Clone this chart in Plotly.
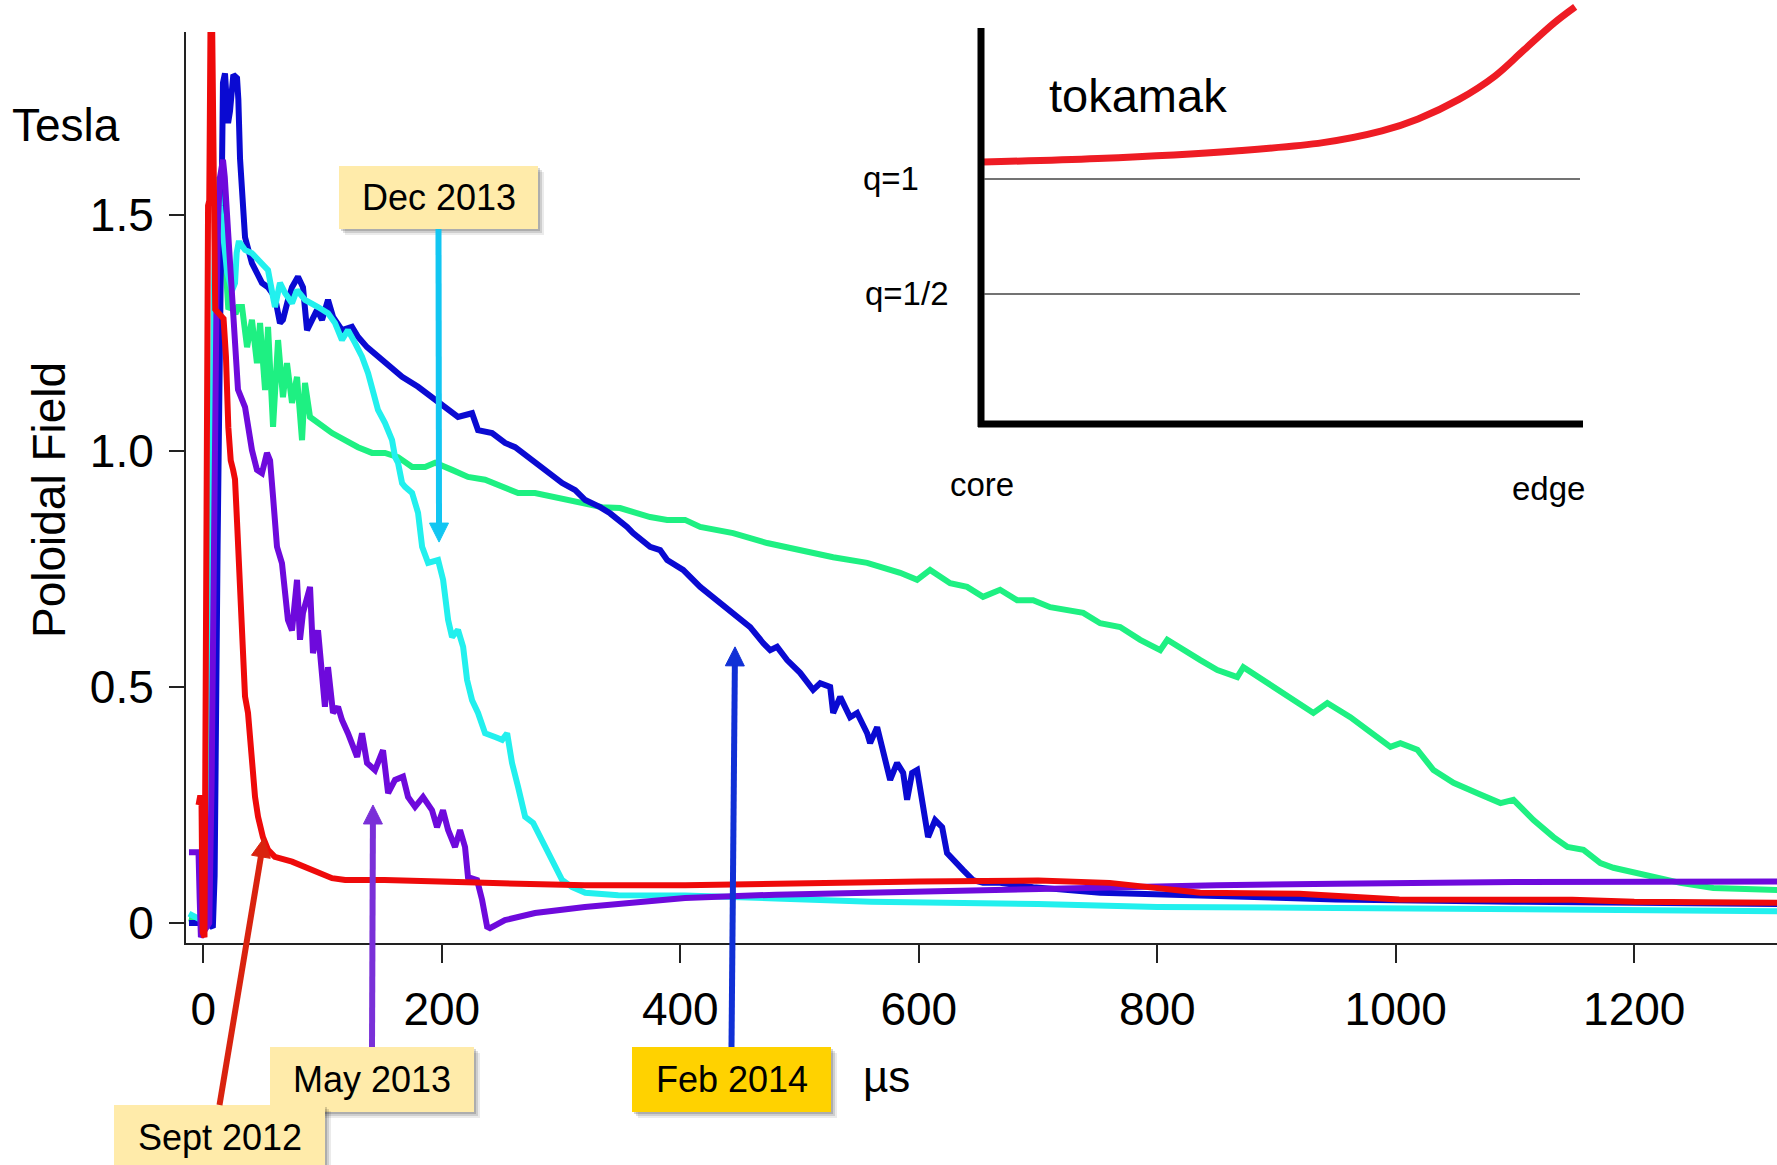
import math
import plotly.graph_objects as go

# ---- poloidal field traces (time in microseconds, field in tesla) ----
sept2012_t = [-4, -2.5, -1.5, -0.5, 1, 2, 3, 4, 5, 6, 7.5, 8.5, 10, 17, 19, 21, 23, 25, 26.6,
              28.3, 32.5, 35, 37.5, 40.8, 43.4, 45.9, 50, 54.3, 60, 74.4, 91, 108, 119, 152,
              236, 320, 404, 500, 600, 700, 760, 836, 919, 1003, 1148, 1200, 1250, 1320]
sept2012_b = [0.25, 0.27, 0.26, -0.02, -0.03, 0.65, 0.68, 1.52, 1.53, 1.886, 1.886, 1.6, 1.3,
              1.28, 1.2, 1.05, 0.98, 0.96, 0.94, 0.85, 0.585, 0.48, 0.445, 0.34, 0.267, 0.225,
              0.182, 0.155, 0.14, 0.13, 0.112, 0.095, 0.091, 0.091, 0.085, 0.08, 0.08, 0.085,
              0.088, 0.09, 0.085, 0.064, 0.062, 0.05, 0.049, 0.045, 0.044, 0.043]

may2013_t = [-12, -4, -3, -2, 0, 5, 7, 9, 11, 12.5, 14, 16.5, 18, 20.7, 24.1, 26.6, 29.1, 35,
             37.5, 40.8, 45, 49.2, 53.4, 56, 58.5, 61.8, 66, 68.5, 71, 74.4, 78.6, 81.1, 83.6,
             89.5, 92, 96.2, 99.6, 102, 104.6, 108.8, 113, 116.3, 121.3, 125.5, 129, 133.1,
             137.3, 144, 150.7, 155, 160.8, 167.5, 171.7, 177.6, 184.3, 191.8, 196, 201, 205.3,
             211.1, 215.3, 219.5, 222, 229.6, 233.8, 238, 240.4, 253, 278.2, 320, 362, 404,
             480, 560, 640, 750, 850, 950, 1100, 1320]
may2013_b = [0.15, 0.15, 0.05, -0.03, -0.02, 0.0, 0.3, 0.9, 1.3, 1.5, 1.58, 1.617, 1.58, 1.468,
             1.326, 1.186, 1.13, 1.093, 1.044, 1.002, 0.96, 0.953, 0.996, 0.98, 0.903, 0.797,
             0.762, 0.69, 0.642, 0.62, 0.727, 0.6, 0.657, 0.712, 0.572, 0.62, 0.542, 0.458,
             0.542, 0.445, 0.458, 0.43, 0.402, 0.373, 0.352, 0.402, 0.339, 0.324, 0.366, 0.275,
             0.303, 0.31, 0.267, 0.246, 0.267, 0.239, 0.203, 0.239, 0.197, 0.161, 0.197, 0.161,
             0.097, 0.091, 0.049, -0.008, -0.011, 0.006, 0.021, 0.034, 0.044, 0.053, 0.06,
             0.065, 0.07, 0.075, 0.08, 0.083, 0.087, 0.088]

dec2013_t = [-12, -5, 3, 5, 7, 9, 11, 12.5, 14, 17, 20, 24, 26.6, 28, 29.5, 31, 35, 40.8, 49.2,
             54.3, 58.5, 60.1, 64.3, 68.5, 74.4, 78.6, 85.3, 91.2, 96.2, 104.6, 110.5, 116.3,
             121.3, 127.2, 133.1, 138.2, 142.4, 146.5, 152.4, 158.3, 160.8, 163.3, 166.7, 169.2,
             175.1, 180.1, 183.5, 188.5, 196.9, 201.1, 205.3, 208.6, 213.6, 217.9, 221.2, 225.4,
             230.4, 236.3, 244.7, 250.6, 254.8, 258.9, 264, 269.9, 276.6, 284.1, 292.5, 300.9,
             309.3, 320.3, 348, 404, 480, 560, 700, 800, 950, 1100, 1320]
dec2013_b = [0.02, 0.01, 0.0, 0.3, 0.9, 1.35, 1.55, 1.58, 1.52, 1.45, 1.38, 1.34, 1.356, 1.42,
             1.44, 1.44, 1.426, 1.419, 1.398, 1.383, 1.326, 1.305, 1.356, 1.335, 1.313, 1.341,
             1.32, 1.313, 1.305, 1.292, 1.271, 1.235, 1.256, 1.229, 1.2, 1.165, 1.129, 1.087,
             1.059, 1.023, 0.987, 0.975, 0.932, 0.924, 0.911, 0.869, 0.797, 0.763, 0.769, 0.727,
             0.642, 0.606, 0.621, 0.585, 0.515, 0.472, 0.445, 0.402, 0.394, 0.388, 0.402, 0.339,
             0.288, 0.225, 0.212, 0.176, 0.133, 0.091, 0.076, 0.064, 0.059, 0.058, 0.052, 0.045,
             0.04, 0.034, 0.032, 0.028, 0.025]

feb2014_t = [-12, 4, 8, 9.5, 12, 14, 15.5, 16.5, 18.2, 20.8, 22.4, 25.2, 28.3, 29.4, 30.8, 32.3,
             35, 40.8, 49.2, 54.3, 60.1, 64.3, 66.8, 71, 74.4, 79.4, 83.6, 87, 89.5, 95.4, 99.6,
             104.6, 108.8, 116.3, 124.7, 129.7, 137.3, 146.5, 158.3, 166.7, 180.1, 191.8, 202.7,
             213.6, 225.4, 230.4, 242.2, 253.1, 261.5, 272.4, 286.7, 301, 311.9, 320.3, 332.8,
             341.1, 355.4, 360.4, 374.7, 383.1, 389, 402.4, 416.7, 430.9, 444.3, 458.6, 469.5,
             475.4, 481.2, 489.6, 500.5, 511.4, 517.3, 525.7, 528.2, 534.1, 542.4, 548.3, 556.7,
             559.2, 565.1, 570.1, 576, 581.8, 586.9, 590.2, 594.4, 598.6, 602.8, 607.8, 613.7,
             619.6, 623.7, 628.8, 637.2, 645.5, 653.9, 668.2, 695.9, 752.1, 850, 950, 1100,
             1200, 1320]
feb2014_b = [0.0, 0.0, -0.01, 0.1, 0.8, 1.2, 1.5, 1.78, 1.80, 1.695, 1.72, 1.797, 1.79, 1.745,
             1.62, 1.54, 1.453, 1.398, 1.356, 1.347, 1.326, 1.271, 1.278, 1.32, 1.347, 1.369,
             1.347, 1.256, 1.271, 1.299, 1.278, 1.32, 1.284, 1.256, 1.263, 1.242, 1.22, 1.2,
             1.178, 1.157, 1.136, 1.114, 1.093, 1.072, 1.08, 1.044, 1.038, 1.017, 1.008, 0.987,
             0.96, 0.932, 0.917, 0.896, 0.881, 0.868, 0.839, 0.826, 0.797, 0.79, 0.769, 0.748,
             0.712, 0.684, 0.657, 0.627, 0.593, 0.578, 0.585, 0.557, 0.53, 0.494, 0.508, 0.5,
             0.445, 0.479, 0.436, 0.445, 0.402, 0.381, 0.415, 0.367, 0.303, 0.339, 0.318, 0.261,
             0.318, 0.324, 0.261, 0.182, 0.218, 0.203, 0.148, 0.133, 0.112, 0.091, 0.085, 0.085,
             0.076, 0.064, 0.056, 0.05, 0.045, 0.042, 0.04]

green_t = [-12, 4, 6, 8, 10, 12.3, 14, 15.7, 17, 19, 21, 24, 27, 29.1, 32.5, 36.7, 40.8, 45,
           47.6, 51.8, 54.3, 58.5, 62.7, 66.8, 70.2, 74.4, 78.6, 82.8, 85.3, 89.5, 96.2, 108,
           118.8, 129.7, 141.5, 152.4, 163.3, 175.1, 186, 194.4, 208.6, 222, 236.3, 250.6, 264,
           278.2, 292.5, 305.9, 320.3, 334.5, 349.5, 362.3, 374.7, 389, 404, 416.7, 444.3, 472.8,
           500.5, 528.2, 556.7, 584.4, 598.6, 609.5, 626.3, 640.5, 653.9, 668.2, 682.5, 695.9,
           710.2, 724.4, 737.9, 752.1, 768.9, 785.7, 802.5, 808.4, 821.8, 836.1, 850.4, 867.1,
           872.2, 892.3, 909.1, 930.9, 942.6, 961.9, 976.2, 995.5, 1003.9, 1018.1, 1031.6,
           1048.4, 1068.5, 1087.8, 1098.7, 1115.5, 1132.3, 1144, 1157.4, 1171.6, 1182.5, 1211,
           1238.6, 1266.3, 1320]
green_b = [0.01, 0.0, 0.2, 0.8, 1.2, 1.45, 1.51, 1.517, 1.45, 1.35, 1.30, 1.31, 1.29, 1.305,
           1.305, 1.22, 1.278, 1.186, 1.271, 1.129, 1.263, 1.051, 1.235, 1.114, 1.186, 1.102,
           1.157, 1.023, 1.144, 1.072, 1.059, 1.038, 1.023, 1.008, 0.996, 0.996, 0.987, 0.966,
           0.966, 0.975, 0.96, 0.945, 0.939, 0.924, 0.911, 0.911, 0.903, 0.896, 0.89, 0.881,
           0.879, 0.869, 0.86, 0.854, 0.854, 0.839, 0.826, 0.805, 0.79, 0.775, 0.763, 0.742,
           0.727, 0.748, 0.72, 0.712, 0.691, 0.706, 0.684, 0.684, 0.669, 0.663, 0.657, 0.635,
           0.627, 0.6, 0.578, 0.6, 0.578, 0.557, 0.536, 0.521, 0.542, 0.508, 0.479, 0.445,
           0.466, 0.436, 0.409, 0.373, 0.381, 0.367, 0.324, 0.297, 0.275, 0.254, 0.261, 0.218,
           0.182, 0.161, 0.155, 0.127, 0.117, 0.102, 0.085, 0.074, 0.07]

x_ticks = [0, 200, 400, 600, 800, 1000, 1200]
y_ticks = [0, 0.5, 1.0, 1.5]
y_ticktext = ["0", "0.5", "1.0", "1.5"]

# ---- inset: safety factor profile across the minor radius ----
q_r = [0.003, 0.194, 0.422, 0.568, 0.666, 0.726, 0.794, 0.854, 0.902, 0.952, 0.987]
q_val = [1.074, 1.089, 1.122, 1.158, 1.209, 1.261, 1.346, 1.448, 1.561, 1.678, 1.748]
q_levels = [1.0, 0.5]

series = [
    (green_t, green_b, "#1EF082", None),
    (feb2014_t, feb2014_b, "#0A0AD2", "Feb 2014"),
    (dec2013_t, dec2013_b, "#22F0EE", "Dec 2013"),
    (may2013_t, may2013_b, "#6E0ADC", "May 2013"),
    (sept2012_t, sept2012_b, "#EE0A0A", "Sept 2012"),
]
for t, b, _, _ in series:
    assert len(t) == len(b)

FONT = "Liberation Sans, Arial, sans-serif"

# plot-area geometry in pixels (used to place paper-referenced decorations)
FIG_W, FIG_H = 1777, 1165
M_L, M_B = 186, 222
PW, PH = FIG_W - M_L, FIG_H - M_B
X_RANGE = [-14.5, 1319.7]
Y_RANGE = [-0.0424, 1.8877]
Y_TOP_PX = 32


def fx(px):
    return (px - M_L) / PW


def fy(py):
    return (PH - py) / PH


def to_px(t, b):
    """Data coordinates of the main axes -> figure pixels."""
    px = M_L + (t - X_RANGE[0]) / (X_RANGE[1] - X_RANGE[0]) * PW
    py = PH - (b - Y_RANGE[0]) / (Y_RANGE[1] - Y_RANGE[0]) * (PH - Y_TOP_PX)
    return px, py


fig = go.Figure()

for t, b, color, name in series:
    fig.add_trace(go.Scatter(x=t, y=b, mode="lines", name=name or "",
                             line=dict(color=color, width=6),
                             showlegend=False, hoverinfo="skip"))

fig.add_trace(go.Scatter(x=q_r, y=q_val, mode="lines", xaxis="x2", yaxis="y2",
                         line=dict(color="#EE1C24", width=7, shape="spline"),
                         showlegend=False, hoverinfo="skip"))

axis_common = dict(showgrid=False, zeroline=False, showline=True, linecolor="#222",
                   linewidth=2, ticks="outside", tickwidth=2, tickcolor="#222",
                   tickfont=dict(family=FONT, size=46, color="black"))

fig.update_layout(
    width=FIG_W, height=FIG_H,
    margin=dict(l=M_L, r=0, t=0, b=M_B, pad=0),
    paper_bgcolor="white", plot_bgcolor="white",
    font=dict(family=FONT, color="black"),
    xaxis=dict(range=X_RANGE, tickvals=x_ticks, ticklen=18,
               ticklabelstandoff=7, **axis_common),
    yaxis=dict(range=Y_RANGE, domain=[0, fy(Y_TOP_PX)], tickvals=y_ticks,
               ticktext=y_ticktext, ticklen=15, ticklabelstandoff=6, **axis_common),
    xaxis2=dict(domain=[fx(981), fx(1583)], range=[0, 1], anchor="y2", visible=False),
    yaxis2=dict(domain=[fy(424), 1.0], range=[-0.0652, 1.778], anchor="x2", visible=False),
)

shapes = []
annotations = []

# inset axes and reference q levels
shapes.append(dict(type="line", xref="paper", yref="paper", x0=fx(981), x1=fx(981),
                   y0=fy(28), y1=fy(427), line=dict(color="black", width=7)))
shapes.append(dict(type="line", xref="paper", yref="paper", x0=fx(978), x1=fx(1583),
                   y0=fy(424), y1=fy(424), line=dict(color="black", width=7)))
for q in q_levels:
    shapes.append(dict(type="line", xref="x2", yref="y2", x0=0.005, x1=0.995, y0=q, y1=q,
                       line=dict(color="#444", width=1.5)))

inset_font = dict(family=FONT, size=33, color="black")
annotations += [
    dict(text="q=1", x=fx(891), y=fy(178), xref="paper", yref="paper", showarrow=False,
         font=inset_font, xanchor="center", yanchor="middle"),
    dict(text="q=1/2", x=fx(907), y=fy(293), xref="paper", yref="paper", showarrow=False,
         font=inset_font, xanchor="center", yanchor="middle"),
    dict(text="core", x=fx(982), y=fy(484), xref="paper", yref="paper", showarrow=False,
         font=inset_font, xanchor="center", yanchor="middle"),
    dict(text="edge", x=fx(1548), y=fy(488), xref="paper", yref="paper", showarrow=False,
         font=inset_font, xanchor="center", yanchor="middle"),
    dict(text="tokamak", x=fx(1138), y=fy(95), xref="paper", yref="paper", showarrow=False,
         font=dict(family=FONT, size=47, color="black"), xanchor="center", yanchor="middle"),
]

# axis titles
annotations += [
    dict(text="Tesla", x=fx(66), y=fy(125), xref="paper", yref="paper", showarrow=False,
         font=dict(family=FONT, size=46, color="black"), xanchor="center", yanchor="middle"),
    dict(text="Poloidal Field", x=fx(49), y=fy(500), xref="paper", yref="paper",
         showarrow=False, textangle=-90,
         font=dict(family=FONT, size=46, color="black"), xanchor="center", yanchor="middle"),
    dict(text="µs", x=fx(886), y=fy(1076), xref="paper", yref="paper", showarrow=False,
         font=dict(family=FONT, size=44, color="black"), xanchor="center", yanchor="middle"),
]

# date call-outs: box (px), label, box colour, arrow tip (data), arrow colour
callouts = [
    ((339, 166, 538, 229), "Dec 2013", "#FFEBAA", (197.7, 0.807), "#12C6F2"),
    ((270, 1047, 474, 1112), "May 2013", "#FFEBAA", (142.3, 0.25), "#7A30D8"),
    ((114, 1105, 325, 1180), "Sept 2012", "#FFEBAA", (50.9, 0.18), "#D9230F"),
    ((632, 1047, 831, 1112), "Feb 2014", "#FFD200", (445.9, 0.585), "#1030D6"),
]

HEAD_LEN, HEAD_HALF = 19, 9.5

for (x0, y0, x1, y1), label, bg, tip, acol in callouts:
    for off, alpha in ((6, 0.08), (4, 0.12), (2, 0.16)):
        shapes.append(dict(type="rect", xref="paper", yref="paper",
                           x0=fx(x0 + off), x1=fx(x1 + off), y0=fy(y0 + off), y1=fy(y1 + off),
                           fillcolor=f"rgba(0,0,0,{alpha})", line=dict(width=0)))
    shapes.append(dict(type="rect", xref="paper", yref="paper", x0=fx(x0), x1=fx(x1),
                       y0=fy(y0), y1=fy(y1), fillcolor=bg, line=dict(width=0)))
    cx = (x0 + x1) / 2
    cy = 1137 if label == "Sept 2012" else (y0 + y1) / 2
    annotations.append(dict(text=label, x=fx(cx), y=fy(cy), xref="paper", yref="paper",
                            showarrow=False, xanchor="center", yanchor="middle",
                            font=dict(family=FONT, size=36, color="black")))

    # arrow from the box edge to the pointed-at trace: shaft plus triangular head
    tail = (cx, y1 if label == "Dec 2013" else y0)
    head = to_px(*tip)
    dx, dy = head[0] - tail[0], head[1] - tail[1]
    n = math.hypot(dx, dy)
    ux, uy = dx / n, dy / n
    base = (head[0] - ux * HEAD_LEN, head[1] - uy * HEAD_LEN)
    shapes.append(dict(type="line", xref="paper", yref="paper",
                       x0=fx(tail[0]), y0=fy(tail[1]),
                       x1=fx(base[0] + ux * 2), y1=fy(base[1] + uy * 2),
                       line=dict(color=acol, width=6)))
    px_, py_ = -uy, ux
    pts = [head,
           (base[0] + px_ * HEAD_HALF, base[1] + py_ * HEAD_HALF),
           (base[0] - px_ * HEAD_HALF, base[1] - py_ * HEAD_HALF)]
    path = "M " + " L ".join(f"{fx(a):.5f},{fy(b):.5f}" for a, b in pts) + " Z"
    shapes.append(dict(type="path", xref="paper", yref="paper", path=path,
                       fillcolor=acol, line=dict(color=acol, width=1)))

fig.update_layout(shapes=shapes, annotations=annotations)

fig.write_html("out.html")
